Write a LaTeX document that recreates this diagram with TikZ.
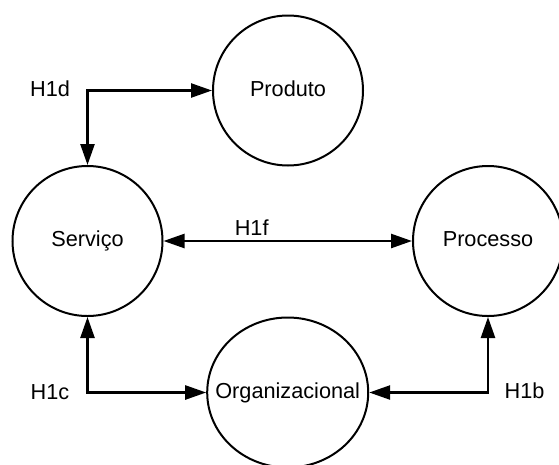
\documentclass[tikz,border=0pt]{standalone}
\usepackage{fontspec}
\setmainfont{Liberation Sans}
\usetikzlibrary{shapes.geometric,arrows.meta}

\begin{document}
\begin{tikzpicture}[x=1pt,y=-1pt,
  every node/.style={font=\fontsize{21.7}{26}\selectfont},
  area/.style={ellipse,draw,line width=2pt,inner sep=0pt,
    minimum width=150pt,minimum height=150pt},
  areatext/.style={text depth=0pt,inner sep=0pt,yshift=2pt},
  tag/.style={inner sep=0pt,text depth=0pt},
  link/.style={line width=2.5pt,
    {Triangle[length=21pt,width=14pt]}-{Triangle[length=21pt,width=14pt]}}
]
\useasboundingbox (0,0) rectangle (559,464);
\clip (0,0) rectangle (559,464);

% the four areas
\node[area] (prod) at (288,90.5) {};
\node[areatext] at (prod.center) {Produto};
\node[area] (serv) at (87.5,241) {};
\node[areatext] at (serv.center) {Serviço};
\node[area] (proc) at (488,241) {};
\node[areatext] at (proc.center) {Processo};
\node[area,minimum width=161pt] (org) at (287.7,392.5) {};
\node[areatext] at (org.center) {Organizacional};

% hypotheses linking them
\draw[link] (serv.north) |- (prod.west);
\draw[link] (serv.east) -- (proc.west);
\draw[link] (serv.south) |- (org.west);
\draw[link] (proc.south) |- (org.east);

% hypothesis labels
\node[tag] (h1d) at (50,89) {H1d};
\node[tag] (h1f) at (251.7,227.5) {H1f};
\node[tag] (h1c) at (50,392) {H1c};
\node[tag] (h1b) at (524.5,391) {H1b};
\end{tikzpicture}
\end{document}
